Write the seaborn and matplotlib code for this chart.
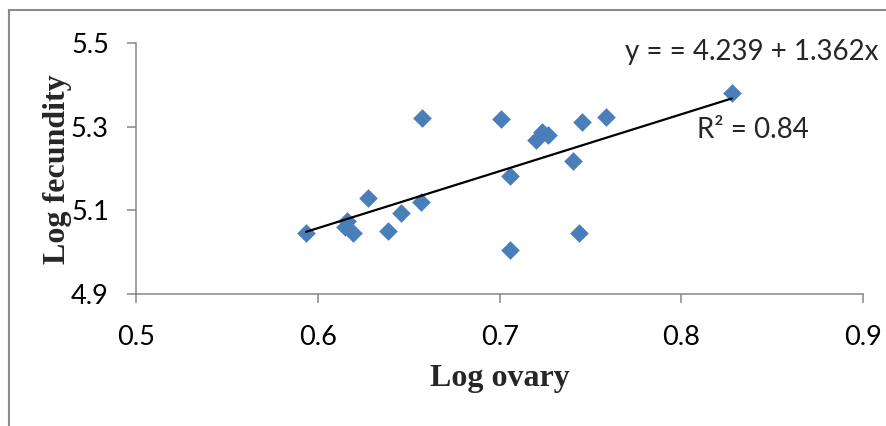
import numpy as np
import pandas as pd
import seaborn as sns
import matplotlib.pyplot as plt
from matplotlib.patches import Rectangle

# values
log_ovary = [0.5935, 0.6274, 0.6161, 0.6150, 0.6194, 0.6388, 0.6458, 0.6566,
             0.6572, 0.7008, 0.7057, 0.7057, 0.7200, 0.7232, 0.7268, 0.7402,
             0.7437, 0.7452, 0.7584, 0.8276]
log_fecundity = [5.046, 5.129, 5.074, 5.060, 5.046, 5.051, 5.093, 5.121,
                 5.320, 5.318, 5.182, 5.005, 5.268, 5.288, 5.280, 5.219,
                 5.045, 5.312, 5.324, 5.380]
x_ticks = [0.5, 0.6, 0.7, 0.8, 0.9]
y_ticks = [4.9, 5.1, 5.3, 5.5]
equation_text = "y = = 4.239 + 1.362x"
r2_text = "R² = 0.84"

df = pd.DataFrame({"log_ovary": log_ovary, "log_fecundity": log_fecundity})

sns.set_style("ticks")
plt.rcParams["font.family"] = ["Lato", "DejaVu Sans"]

grey = "#868686"
fig = plt.figure(figsize=(8.86, 4.26), dpi=100)
ax = fig.add_axes([0.1535, 0.3099, 0.8209, 0.5885])

sns.regplot(data=df, x="log_ovary", y="log_fecundity", ax=ax, ci=None,
            truncate=True, marker="D",
            scatter_kws=dict(s=90, color="#4a7ebb", linewidths=0, alpha=1),
            line_kws=dict(color="black", lw=1.6))

ax.set_xlim(0.5, 0.9)
ax.set_ylim(4.9, 5.5)
ax.set_xticks(x_ticks)
ax.set_yticks(y_ticks)
ax.set_xticklabels([f"{v:.1f}" for v in x_ticks])
ax.set_yticklabels([f"{v:.1f}" for v in y_ticks])
ax.tick_params(axis="both", direction="out", length=6.5, width=1.1,
               color=grey, labelsize=19.5, labelcolor="black")
ax.tick_params(axis="x", pad=16)
ax.tick_params(axis="y", pad=13)
sns.despine(ax=ax)
for side in ["left", "bottom"]:
    ax.spines[side].set_color(grey)
    ax.spines[side].set_linewidth(1.1)

serif = ["Liberation Serif", "DejaVu Serif"]
ax.set_xlabel("Log ovary", fontsize=23, fontweight="bold", fontfamily=serif)
ax.set_ylabel("Log fecundity", fontsize=23, fontweight="bold", fontfamily=serif)
ax.xaxis.set_label_coords(0.5, -0.28)
ax.xaxis.label.set_va("top")
ax.yaxis.set_label_coords(-0.088, 0.5)

ax.text(0.6726, 0.965, equation_text, transform=ax.transAxes, fontsize=20,
        ha="left", va="center")
ax.text(0.772, 0.654, r2_text, transform=ax.transAxes, fontsize=20,
        ha="left", va="center")

# outer chart border, cut off on the right and bottom like the reference
fig.add_artist(Rectangle((0.0102, -0.2), 1.2, 0.9765 + 0.2,
                         transform=fig.transFigure, fill=False,
                         edgecolor="#8c8c8c", lw=1.5))

fig.savefig("out.png", dpi=100, facecolor="white")
